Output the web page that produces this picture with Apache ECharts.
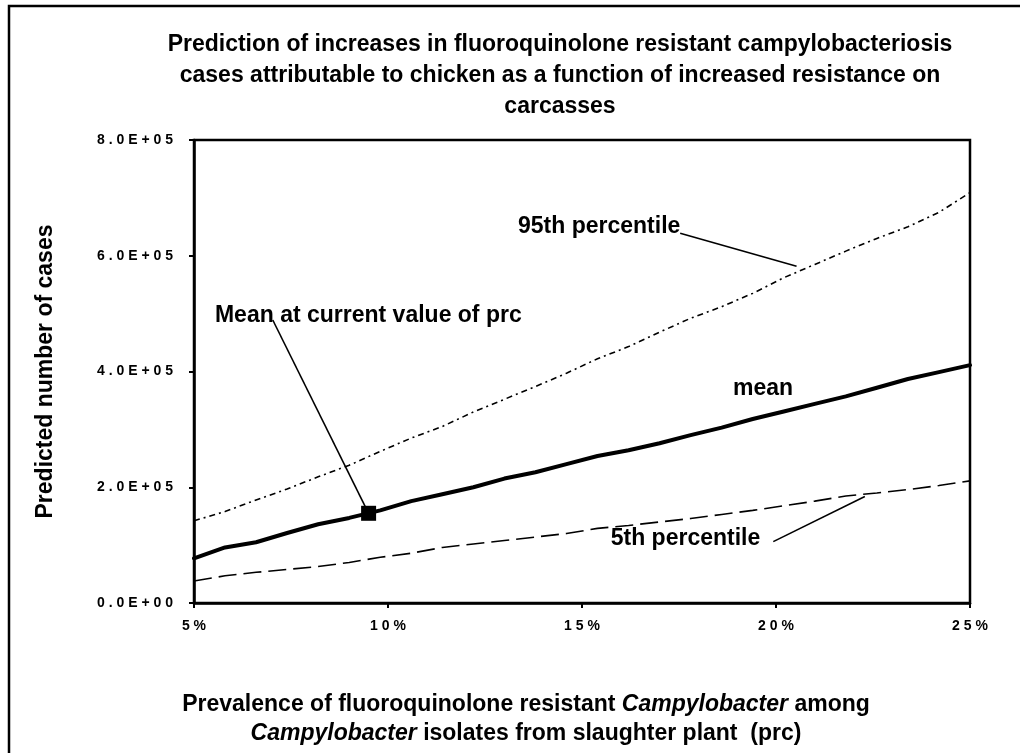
<!DOCTYPE html>
<html>
<head>
<meta charset="utf-8">
<script src="https://cdn.jsdelivr.net/npm/echarts@6/dist/echarts.min.js"></script>
<style>
  html, body { margin: 0; padding: 0; background: #ffffff; }
  #chart { width: 1020px; height: 753px; }
</style>
</head>
<body>
<div id="chart"></div>
<script>
// Prevalence of resistant Campylobacter on carcasses (prc, %)
const prc = [5.0, 5.8, 6.6, 7.4, 8.2, 9.0, 9.8, 10.6, 11.4, 12.2, 13.0, 13.8, 14.6,
             15.4, 16.2, 17.0, 17.8, 18.6, 19.4, 20.2, 21.0, 21.8, 22.6, 23.4, 24.2, 25.0];

// Predicted number of cases
const meanCases = [77000, 96000, 105000, 121000, 136000, 147000, 160000, 176000, 188000,
                   200000, 215000, 226000, 240000, 254000, 264000, 276000, 290000, 303000,
                   318000, 331000, 344000, 357000, 372000, 387000, 399000, 411000];
const p95Cases = [142000, 158000, 178000, 197000, 218000, 238000, 262000, 285000, 305000,
                  330000, 352000, 374000, 397000, 422000, 443000, 468000, 492000, 512000,
                  535000, 562000, 585000, 608000, 630000, 650000, 675000, 709000];
const p5Cases = [38000, 47000, 53000, 58000, 63000, 70000, 79000, 86000, 96000,
                 102000, 108000, 114000, 120000, 129000, 134000, 140000, 146000, 153000,
                 160000, 168000, 176000, 185000, 190000, 196000, 203000, 211000];

// Mean at the current value of prc
const currentPrc = 9.5;
const currentMean = 155000;

// Tick labels
const xTickLabels = ['5%', '10%', '15%', '20%', '25%'];
const yTickLabels = ['0.0E+00', '2.0E+05', '4.0E+05', '6.0E+05', '8.0E+05'];

const titleLines = [
  'Prediction of increases in fluoroquinolone resistant campylobacteriosis',
  'cases attributable to chicken as a function of increased resistance on',
  'carcasses'
];

const FONT = '"Liberation Sans", Arial, sans-serif';
const spaced = s => s.split('').join(' ');
const pairs = ys => prc.map((x, i) => [x, ys[i]]);

const chart = echarts.init(document.getElementById('chart'), null, { renderer: 'canvas' });

const option = {
  backgroundColor: '#ffffff',
  animation: false,
  grid: { left: 194, top: 140, width: 776, height: 463, show: true,
          borderColor: '#000', borderWidth: 2.5, backgroundColor: 'transparent' },
  xAxis: {
    type: 'value', min: 5, max: 25, interval: 5,
    axisLine: { show: true, onZero: false, lineStyle: { color: '#000', width: 2.5 } },
    axisTick: { show: true, inside: false, length: 5, lineStyle: { color: '#000', width: 2 } },
    splitLine: { show: false },
    axisLabel: {
      margin: 16, color: '#000', fontFamily: FONT, fontWeight: 'bold', fontSize: 14,
      formatter: (v, i) => spaced(xTickLabels[i])
    }
  },
  yAxis: {
    type: 'value', min: 0, max: 800000, interval: 200000,
    name: 'Predicted number of cases',
    nameLocation: 'middle', nameRotate: 90, nameGap: 137,
    nameTextStyle: { color: '#000', fontFamily: FONT, fontWeight: 'bold', fontSize: 23 },
    axisLine: { show: true, lineStyle: { color: '#000', width: 2.5 } },
    axisTick: { show: true, inside: false, length: 5, lineStyle: { color: '#000', width: 2 } },
    splitLine: { show: false },
    axisLabel: {
      margin: 21, color: '#000', fontFamily: FONT, fontWeight: 'bold', fontSize: 14,
      formatter: (v, i) => spaced(yTickLabels[i])
    }
  },
  series: [
    {
      name: '95th percentile', type: 'line', data: pairs(p95Cases), showSymbol: false,
      lineStyle: { color: '#000', width: 1.6, type: [6, 4, 2, 4] }, z: 3
    },
    {
      name: 'mean', type: 'line', data: pairs(meanCases), showSymbol: false,
      lineStyle: { color: '#000', width: 4, cap: 'round', join: 'round' }, z: 4
    },
    {
      name: '5th percentile', type: 'line', data: pairs(p5Cases), showSymbol: false,
      lineStyle: { color: '#000', width: 1.6, type: [18, 7] }, z: 3
    },
    {
      name: 'Mean at current value of prc', type: 'scatter',
      data: [[currentPrc, currentMean]], symbol: 'rect', symbolSize: 15,
      itemStyle: { color: '#000', opacity: 1 }, z: 6
    }
  ]
};
chart.setOption(option);

// Annotation labels with leader lines, placed in data coordinates
const annotations = [
  { text: '95th percentile', at: [13.35, 650000], from: [17.53, 639000], to: [20.53, 582000] },
  { text: 'Mean at current value of prc', at: [5.54, 497000], from: [7.03, 489000], to: [currentPrc, currentMean] },
  { text: 'mean', at: [18.89, 370000] },
  { text: '5th percentile', at: [15.74, 112000], from: [19.93, 106000], to: [22.29, 184000] }
];

const px = p => chart.convertToPixel({ gridIndex: 0 }, p);
const elements = [];

// Outer frame of the figure
elements.push({
  type: 'rect', shape: { x: 9, y: 6, width: 1100, height: 800 },
  style: { fill: null, stroke: '#000', lineWidth: 2.5 }, z: 1, silent: true
});

annotations.forEach(a => {
  const p = px(a.at);
  elements.push({
    type: 'text', x: p[0], y: p[1], z: 10,
    style: { text: a.text, fill: '#000', font: 'bold 23px ' + FONT,
             align: 'left', verticalAlign: 'middle' }
  });
  if (a.from) {
    const f = px(a.from), t = px(a.to);
    elements.push({
      type: 'line', z: 9, shape: { x1: f[0], y1: f[1], x2: t[0], y2: t[1] },
      style: { stroke: '#000', lineWidth: 1.6 }
    });
  }
});

// Chart title
titleLines.forEach((line, i) => {
  elements.push({
    type: 'text', x: 560, y: 45 + i * 31, z: 10,
    style: { text: line, fill: '#000', font: 'bold 23px ' + FONT,
             align: 'center', verticalAlign: 'middle' }
  });
});

// X axis title with italic genus name
elements.push({
  type: 'text', x: 526, y: 719, z: 10,
  style: {
    text: '{n|Prevalence of fluoroquinolone resistant }{i|Campylobacter}{n| among}\n' +
          '{i|Campylobacter}{n| isolates from slaughter plant  (prc)}',
    align: 'center', verticalAlign: 'middle',
    rich: {
      n: { fill: '#000', fontFamily: FONT, fontWeight: 'bold', fontSize: 23, lineHeight: 29 },
      i: { fill: '#000', fontFamily: FONT, fontWeight: 'bold', fontStyle: 'italic', fontSize: 23, lineHeight: 29 }
    }
  }
});

chart.setOption({ graphic: { elements } });
</script>
</body>
</html>
